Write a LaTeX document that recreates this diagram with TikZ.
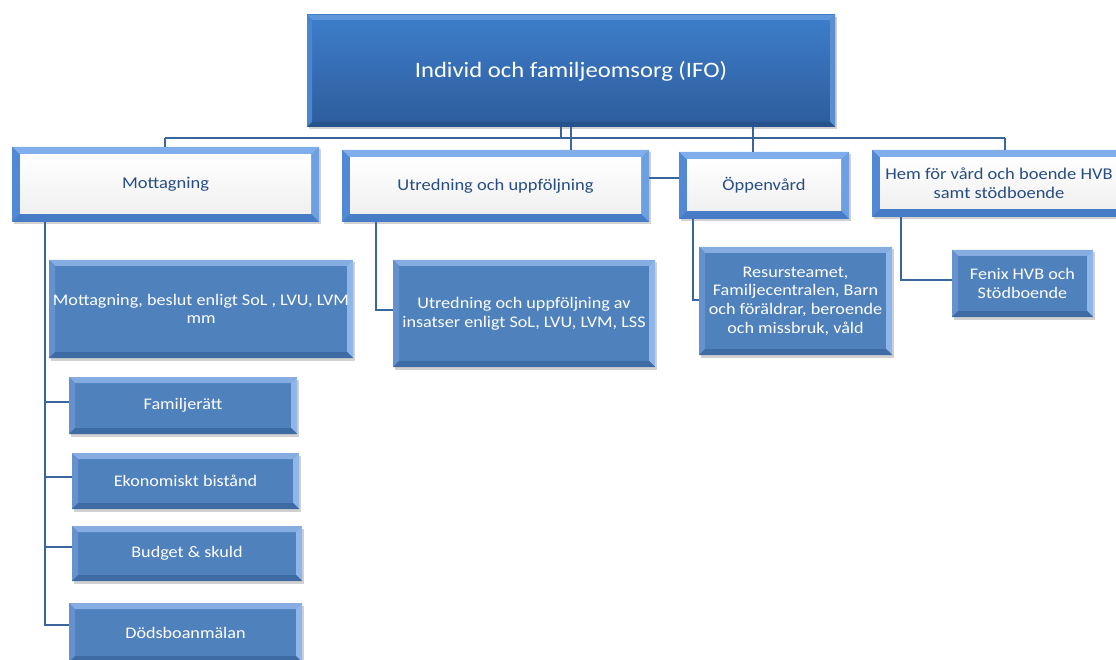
\documentclass[tikz,border=0pt]{standalone}
\usepackage{fontspec}
\setmainfont{Carlito}[FakeStretch=1.12]
\usetikzlibrary{calc,shadows}
\definecolor{subblue}{HTML}{4F81BD}
\definecolor{subtop}{HTML}{86ADE2}
\definecolor{subleft}{HTML}{6592CC}
\definecolor{subright}{HTML}{8FB6E8}
\definecolor{subbot}{HTML}{3F6BA4}
\definecolor{ifotop}{HTML}{3E7ECB}
\definecolor{ifobot}{HTML}{2D5C9B}
\definecolor{ifobtop}{HTML}{5E96DB}
\definecolor{ifobleft}{HTML}{4A86CF}
\definecolor{ifobright}{HTML}{5A8FD0}
\definecolor{ifobbot}{HTML}{28528B}
\definecolor{frbase}{HTML}{5B91DA}
\definecolor{frtop}{HTML}{80AEEA}
\definecolor{frleft}{HTML}{5189D6}
\definecolor{frright}{HTML}{6CA0E1}
\definecolor{frbot}{HTML}{467BC6}
\definecolor{frtext}{HTML}{274D82}
\definecolor{linkcol}{HTML}{3A669C}
\newcommand\mybevel[5]{%
  \coordinate (pNW) at (path picture bounding box.north west);
  \coordinate (pNE) at (path picture bounding box.north east);
  \coordinate (pSW) at (path picture bounding box.south west);
  \coordinate (pSE) at (path picture bounding box.south east);
  \fill[#2] (pNW) -- (pNE) -- ([shift={(-#1,-#1)}]pNE) -- ([shift={(#1,-#1)}]pNW) -- cycle;
  \fill[#3] (pNW) -- (pSW) -- ([shift={(#1,#1)}]pSW) -- ([shift={(#1,-#1)}]pNW) -- cycle;
  \fill[#4] (pNE) -- (pSE) -- ([shift={(-#1,#1)}]pSE) -- ([shift={(-#1,-#1)}]pNE) -- cycle;
  \fill[#5] (pSW) -- (pSE) -- ([shift={(-#1,#1)}]pSE) -- ([shift={(#1,#1)}]pSW) -- cycle;
}
\tikzset{
  boxbase/.style={rectangle, inner sep=0pt, outer sep=0pt, align=center,
    drop shadow={shadow xshift=1.5pt, shadow yshift=-2.5pt, opacity=0.3, fill=black!60}},
  subbox/.style={boxbase, fill=subblue, text=white,
    font=\fontsize{16.2}{18.7}\selectfont,
    path picture={\mybevel{6}{subtop}{subleft}{subright}{subbot}}},
  framebox/.style={boxbase, fill=frbase, text=frtext,
    font=\fontsize{16.5}{19}\selectfont,
    path picture={\mybevel{8}{frtop}{frleft}{frright}{frbot}
      \shade[top color=white, bottom color=black!6] ([shift={(8,-8)}]pNW) rectangle ([shift={(-8,8)}]pSE);}},
  topbox/.style={boxbase, top color=ifotop, bottom color=ifobot, text=white,
    font=\fontsize{22}{26}\selectfont,
    path picture={\mybevel{5}{ifobtop}{ifobleft}{ifobright}{ifobbot}}},
  link/.style={draw=linkcol, line width=2.4pt}
}
\begin{document}
\begin{tikzpicture}[x=1pt,y=1pt]
\useasboundingbox (0,0) rectangle (1116,-660);
\clip (0,0) rectangle (1116,-660);
% top
\node[topbox, minimum width=528, minimum height=112] (ifo) at (571,-71) {Individ och familjeomsorg (IFO)};
% second level
\node[framebox, minimum width=307, minimum height=75] (mott) at (165.5,-184.5) {Mottagning};
\node[framebox, minimum width=307, minimum height=72] (utr) at (495.5,-186) {Utredning och uppföljning};
\node[framebox, minimum width=170, minimum height=67] (opp) at (764,-185.5) {Öppenvård};
\node[framebox, minimum width=254, minimum height=67] (hem) at (999,-183.5) {Hem för vård och boende HVB\\samt stödboende};
% third level
\node[subbox, minimum width=304, minimum height=98] (beslut) at (201,-309) {Mottagning, beslut enligt SoL , LVU, LVM\\mm};
\node[subbox, minimum width=228, minimum height=57] (fam) at (183,-405.5) {Familjerätt};
\node[subbox, minimum width=227, minimum height=56] (eko) at (185.5,-481) {Ekonomiskt bistånd};
\node[subbox, minimum width=230, minimum height=55] (bud) at (187,-553.5) {Budget \& skuld};
\node[subbox, minimum width=233, minimum height=59] (dod) at (185.5,-632.5) {Dödsboanmälan};
\node[subbox, minimum width=262, minimum height=107] (usub) at (524,-313.5) {Utredning och uppföljning av\\insatser enligt SoL, LVU, LVM, LSS};
\node[subbox, minimum width=193, minimum height=108] (res) at (795.5,-301) {Resursteamet,\\Familjecentralen, Barn\\och föräldrar, beroende\\och missbruk, våld};
\node[subbox, minimum width=141, minimum height=67] (fen) at (1022.5,-283.5) {Fenix HVB och\\Stödboende};
% helper coordinates
\coordinate (busL) at (165,-138);
\coordinate (busR) at (1005,-138);
\coordinate (x561) at (561,0);
\coordinate (x571) at (571,0);
\coordinate (x753) at (753,0);
\coordinate (x45) at (45,0);
\coordinate (x376) at (376,0);
\coordinate (x693) at (693,0);
\coordinate (x901) at (901,0);
\coordinate (y178) at (0,-178);
% connectors
\draw[link] (busL) -- (busR);
\draw[link] (ifo.south -| x561) -- (busL -| x561);
\draw[link] (ifo.south -| x571) -- (utr.north -| x571);
\draw[link] (ifo.south -| x753) -- (opp.north -| x753);
\draw[link] (busL) -- (mott.north -| busL);
\draw[link] (busR) -- (hem.north -| busR);
\draw[link] (utr.east |- y178) -- (opp.west |- y178);
\draw[link] (mott.south -| x45) -- ([yshift=7.5pt]dod.west -| x45) -- ([yshift=7.5pt]dod.west);
\draw[link] ([yshift=3.5pt]fam.west -| x45) -- ([yshift=3.5pt]fam.west);
\draw[link] ([yshift=4pt]eko.west -| x45) -- ([yshift=4pt]eko.west);
\draw[link] ([yshift=6.5pt]bud.west -| x45) -- ([yshift=6.5pt]bud.west);
\draw[link] (utr.south -| x376) |- ([yshift=3.5pt]usub.west);
\draw[link] (opp.south -| x693) |- ([yshift=1pt]res.west);
\draw[link] (hem.south -| x901) |- ([yshift=3.5pt]fen.west);
\end{tikzpicture}
\end{document}
